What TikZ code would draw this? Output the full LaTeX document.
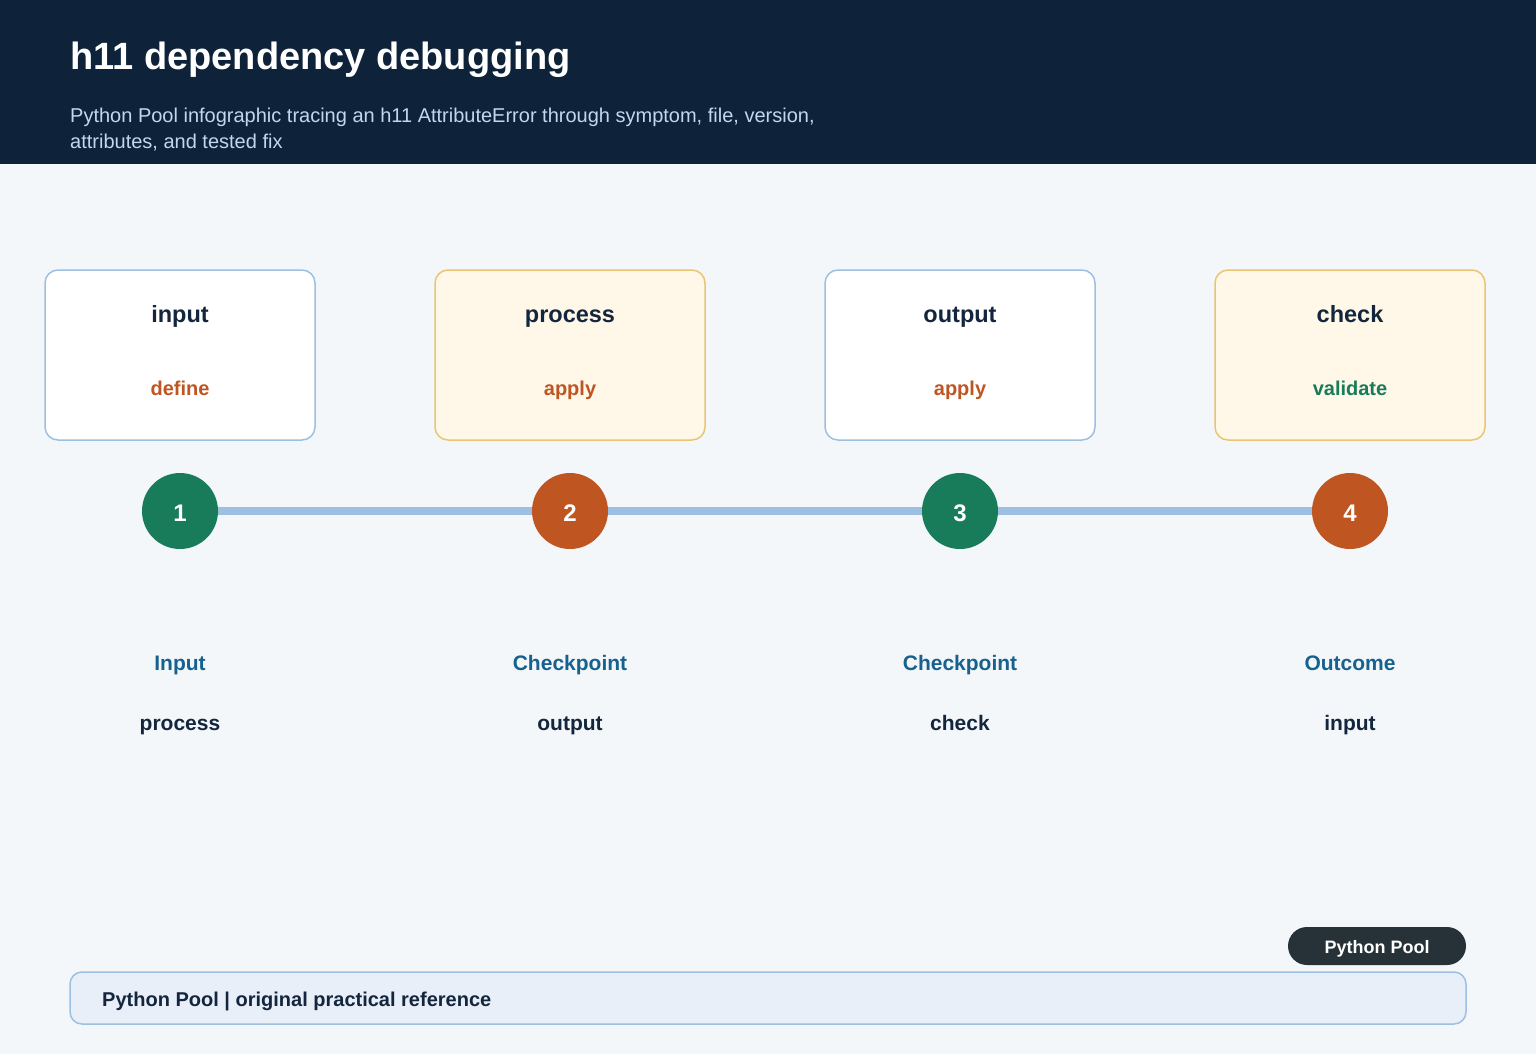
\documentclass[tikz,border=0pt]{standalone}
\usepackage{fontspec}
\setmainfont{Liberation Sans}
\definecolor{hdr}{HTML}{0E2339}
\definecolor{bg}{HTML}{F4F7FA}
\definecolor{subt}{HTML}{C3D7EC}
\definecolor{bluebd}{HTML}{9DBFE2}
\definecolor{goldbd}{HTML}{E9C474}
\definecolor{goldfill}{HTML}{FFF7E8}
\definecolor{ink}{HTML}{14263D}
\definecolor{orng}{HTML}{BF5622}
\definecolor{grn}{HTML}{187C5B}
\definecolor{lblue}{HTML}{17618F}
\definecolor{pill}{HTML}{263238}
\definecolor{footfill}{HTML}{E8EFF9}
\tikzset{
  card/.style={draw=bluebd, line width=1.5pt, fill=white, rounded corners=13pt, minimum width=270pt, minimum height=170pt},
  cardgold/.style={card, draw=goldbd, fill=goldfill},
  txt/.style={anchor=base, inner sep=0pt},
  cardtitle/.style={txt, font=\fontsize{23.5}{28}\selectfont\bfseries, text=ink},
  cardsub/.style={txt, font=\fontsize{20}{24}\selectfont\bfseries},
  stepdot/.style={circle, minimum size=76pt, inner sep=0pt},
  stepnum/.style={txt, text=white, font=\fontsize{24}{28}\selectfont\bfseries},
  steplabel/.style={txt, font=\fontsize{21}{25}\selectfont\bfseries, text=lblue},
  stepnote/.style={txt, font=\fontsize{21}{25}\selectfont\bfseries, text=ink},
}
\begin{document}
\begin{tikzpicture}[x=1pt,y=-1pt]
\useasboundingbox (0,0) rectangle (1536,1054);
\fill[bg] (0,0) rectangle (1536,1054);
\fill[hdr] (0,0) rectangle (1536,164);
\node[anchor=base west, text=white, font=\fontsize{38}{44}\selectfont\bfseries, inner sep=0pt] (title) at (70,70) {h11 dependency debugging};
\node[anchor=base west, text=subt, font=\fontsize{20}{26}\selectfont, inner sep=0pt] (subtitle) at (70,123) {Python Pool infographic tracing an h11 AttributeError through symptom, file, version,};
\node[anchor=base west, text=subt, font=\fontsize{20}{26}\selectfont, inner sep=0pt] (subtitle2) at (70,149) {attributes, and tested fix};

% cards
\node[card] (c1) at (180,355) {};
\node[cardgold] (c2) at (570,355) {};
\node[card] (c3) at (960,355) {};
\node[cardgold] (c4) at (1350,355) {};
\foreach \i/\x/\t/\s/\c in {1/180/input/define/orng, 2/570/process/apply/orng, 3/960/output/apply/orng, 4/1350/check/validate/grn}{
  \node[cardtitle] (ct\i) at (\x,322) {\t};
  \node[cardsub, text=\c] (cs\i) at (\x,395) {\s};
}

% timeline
\node[stepdot, fill=grn] (d1) at (180,511) {};
\node[stepdot, fill=orng] (d2) at (570,511) {};
\node[stepdot, fill=grn] (d3) at (960,511) {};
\node[stepdot, fill=orng] (d4) at (1350,511) {};
\draw[line width=7.5pt, draw=bluebd] (d1.east) -- (d2.west) (d2.east) -- (d3.west) (d3.east) -- (d4.west);
\foreach \i/\x in {1/180, 2/570, 3/960, 4/1350}{
  \node[stepnum] (num\i) at (\x,521) {\i};
}

\foreach \i/\x/\a/\b in {1/180/Input/process, 2/570/Checkpoint/output, 3/960/Checkpoint/check, 4/1350/Outcome/input}{
  \node[steplabel] (l\i) at (\x,670) {\a};
  \node[stepnote] (n\i) at (\x,730) {\b};
}

% pill and footer
\node[fill=pill, rounded corners=19pt, minimum width=178pt, minimum height=38pt] (pill) at (1377,946) {};
\node[txt, text=white, font=\fontsize{18}{22}\selectfont\bfseries] (pilltext) at (1377,953) {Python Pool};
\node[draw=bluebd, line width=1.5pt, fill=footfill, rounded corners=12pt, minimum width=1396pt, minimum height=52pt] (foot) at (768,998) {};
\node[anchor=base west, text=ink, font=\fontsize{20}{24}\selectfont\bfseries, inner sep=0pt] (foottext) at (102,1006) {Python Pool | original practical reference};
\end{tikzpicture}
\end{document}
